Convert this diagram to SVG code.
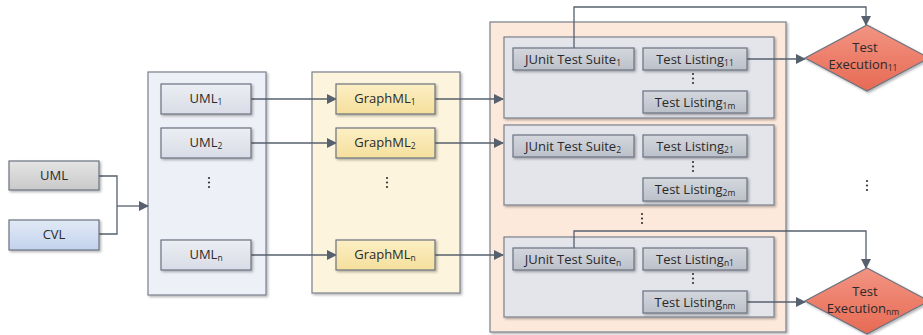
<svg xmlns="http://www.w3.org/2000/svg" width="923" height="335" viewBox="0 0 923 335">
<defs>
<linearGradient id="gGray" x1="0" y1="0" x2="0" y2="1"><stop offset="0" stop-color="#e4e4e4"/><stop offset="1" stop-color="#c9c9c9"/></linearGradient>
<linearGradient id="gBlue" x1="0" y1="0" x2="0" y2="1"><stop offset="0" stop-color="#e1e9f6"/><stop offset="1" stop-color="#c3d3ec"/></linearGradient>
<linearGradient id="gUml" x1="0" y1="0" x2="0" y2="1"><stop offset="0" stop-color="#eceef4"/><stop offset="1" stop-color="#d9dce6"/></linearGradient>
<linearGradient id="gYel" x1="0" y1="0" x2="0" y2="1"><stop offset="0" stop-color="#fcefc4"/><stop offset="1" stop-color="#f5df9c"/></linearGradient>
<linearGradient id="gJ" x1="0" y1="0" x2="0" y2="1"><stop offset="0" stop-color="#d4d7de"/><stop offset="1" stop-color="#bcc0c9"/></linearGradient>
<linearGradient id="gRed" x1="0" y1="0" x2="0" y2="1"><stop offset="0" stop-color="#f29482"/><stop offset="1" stop-color="#e76a54"/></linearGradient>
<filter id="sh" x="-10%" y="-10%" width="130%" height="140%"><feDropShadow dx="1.5" dy="1.5" stdDeviation="0.8" flood-color="#000" flood-opacity="0.3"/></filter>
<marker id="arr" markerWidth="10" markerHeight="10" refX="9" refY="5" orient="auto" markerUnits="userSpaceOnUse"><path d="M0,0 L10,5 L0,10 Z" fill="#56606e"/></marker>
</defs>
<style>
.box{stroke:#6b7280;stroke-width:1.2;filter:url(#sh)}
.cont{stroke:#7a808c;stroke-width:1.2;filter:url(#sh)}
.t{font-family:"Open Sans","Liberation Sans",Arial,sans-serif;font-size:13px;fill:#2a2a2a;text-anchor:middle}
.s{font-size:8.5px}
.ln{fill:none;stroke:#56606e;stroke-width:1.3}
.dot{fill:#333}
</style>

<g id="c1"><rect class="cont" x="148" y="72" width="118" height="223" fill="#eef0f7"/></g>
<g id="c2"><rect class="cont" x="312" y="72" width="148" height="221" fill="#fcf4dc"/></g>
<g id="c3"><rect class="cont" x="490" y="22" width="296" height="310" fill="#fde8dc"/></g>
<g id="sg1"><rect class="cont" x="504" y="37" width="270" height="81" fill="#e3e5eb"/></g>
<g id="sg2"><rect class="cont" x="504" y="125" width="270" height="80" fill="#e3e5eb"/></g>
<g id="sgn"><rect class="cont" x="504" y="237" width="270" height="80" fill="#e3e5eb"/></g>

<g id="connectors">
<polyline class="ln" points="99,176 117,176 117,234 99,234"/>
<line class="ln" x1="117" y1="206" x2="148" y2="206" marker-end="url(#arr)"/>
<line class="ln" x1="251" y1="99" x2="336" y2="99" marker-end="url(#arr)"/>
<line class="ln" x1="251" y1="143" x2="336" y2="143" marker-end="url(#arr)"/>
<line class="ln" x1="251" y1="255" x2="336" y2="255" marker-end="url(#arr)"/>
<line class="ln" x1="435" y1="99" x2="503" y2="99" marker-end="url(#arr)"/>
<line class="ln" x1="435" y1="143" x2="503" y2="143" marker-end="url(#arr)"/>
<line class="ln" x1="435" y1="255" x2="503" y2="255" marker-end="url(#arr)"/>
<polyline class="ln" points="574,48 574,7 866,7 866,25" marker-end="url(#arr)"/>
<polyline class="ln" points="574,248 574,231 866,231 866,268" marker-end="url(#arr)"/>
<line class="ln" x1="747" y1="59" x2="805" y2="59" marker-end="url(#arr)"/>
<line class="ln" x1="747" y1="302" x2="805" y2="302" marker-end="url(#arr)"/>
</g>

<g id="uml"><rect class="box" x="9" y="161" width="90" height="29" fill="url(#gGray)"/><text class="t" x="54" y="180">UML</text></g>
<g id="cvl"><rect class="box" x="9" y="220" width="90" height="30" fill="url(#gBlue)"/><text class="t" x="54" y="239">CVL</text></g>

<g id="uml1"><rect class="box" x="161" y="84" width="90" height="30" fill="url(#gUml)"/><text class="t" x="206" y="103">UML<tspan class="s" dy="2">1</tspan></text></g>
<g id="uml2"><rect class="box" x="161" y="128" width="90" height="30" fill="url(#gUml)"/><text class="t" x="206" y="147">UML<tspan class="s" dy="2">2</tspan></text></g>
<g id="umln"><rect class="box" x="161" y="240" width="90" height="30" fill="url(#gUml)"/><text class="t" x="206" y="259">UML<tspan class="s" dy="2">n</tspan></text></g>
<g id="dots1"><circle class="dot" cx="209" cy="178" r="1.1"/><circle class="dot" cx="209" cy="182.5" r="1.1"/><circle class="dot" cx="209" cy="187" r="1.1"/></g>

<g id="g1"><rect class="box" x="336" y="84" width="99" height="30" fill="url(#gYel)"/><text class="t" x="385" y="103">GraphML<tspan class="s" dy="2">1</tspan></text></g>
<g id="g2"><rect class="box" x="336" y="128" width="99" height="30" fill="url(#gYel)"/><text class="t" x="385" y="147">GraphML<tspan class="s" dy="2">2</tspan></text></g>
<g id="gn"><rect class="box" x="336" y="240" width="99" height="30" fill="url(#gYel)"/><text class="t" x="385" y="259">GraphML<tspan class="s" dy="2">n</tspan></text></g>
<g id="dots2"><circle class="dot" cx="387" cy="178" r="1.1"/><circle class="dot" cx="387" cy="182.5" r="1.1"/><circle class="dot" cx="387" cy="187" r="1.1"/></g>

<g id="js1"><rect class="box" x="513" y="48" width="121" height="22" fill="url(#gJ)"/><text class="t" x="573" y="63.5">JUnit Test Suite<tspan class="s" dy="2">1</tspan></text></g>
<g id="tl11"><rect class="box" x="643" y="48" width="104" height="22" fill="url(#gJ)"/><text class="t" x="695" y="63.5">Test Listing<tspan class="s" dy="2">11</tspan></text></g>
<g id="dots3"><circle class="dot" cx="693" cy="74" r="1.1"/><circle class="dot" cx="693" cy="78.5" r="1.1"/><circle class="dot" cx="693" cy="83" r="1.1"/></g>
<g id="tl1m"><rect class="box" x="643" y="91" width="104" height="22" fill="url(#gJ)"/><text class="t" x="695" y="106.5">Test Listing<tspan class="s" dy="2">1m</tspan></text></g>

<g id="js2"><rect class="box" x="513" y="135" width="121" height="22" fill="url(#gJ)"/><text class="t" x="573" y="150.5">JUnit Test Suite<tspan class="s" dy="2">2</tspan></text></g>
<g id="tl21"><rect class="box" x="643" y="135" width="104" height="22" fill="url(#gJ)"/><text class="t" x="695" y="150.5">Test Listing<tspan class="s" dy="2">21</tspan></text></g>
<g id="dots4"><circle class="dot" cx="693" cy="162" r="1.1"/><circle class="dot" cx="693" cy="166.5" r="1.1"/><circle class="dot" cx="693" cy="171" r="1.1"/></g>
<g id="tl2m"><rect class="box" x="643" y="178" width="104" height="23" fill="url(#gJ)"/><text class="t" x="695" y="194">Test Listing<tspan class="s" dy="2">2m</tspan></text></g>

<g id="dots5"><circle class="dot" cx="642" cy="214" r="1.1"/><circle class="dot" cx="642" cy="218.5" r="1.1"/><circle class="dot" cx="642" cy="223" r="1.1"/></g>

<g id="jsn"><rect class="box" x="513" y="248" width="121" height="22" fill="url(#gJ)"/><text class="t" x="573" y="263.5">JUnit Test Suite<tspan class="s" dy="2">n</tspan></text></g>
<g id="tln1"><rect class="box" x="643" y="248" width="104" height="22" fill="url(#gJ)"/><text class="t" x="695" y="263.5">Test Listing<tspan class="s" dy="2">n1</tspan></text></g>
<g id="dots6"><circle class="dot" cx="693" cy="274" r="1.1"/><circle class="dot" cx="693" cy="278.5" r="1.1"/><circle class="dot" cx="693" cy="283" r="1.1"/></g>
<g id="tlnm"><rect class="box" x="643" y="291" width="104" height="22" fill="url(#gJ)"/><text class="t" x="695" y="306.5">Test Listing<tspan class="s" dy="2">nm</tspan></text></g>

<g id="te11"><polygon class="box" points="867,25 929,58 867,91 805,58" fill="url(#gRed)"/><text class="t" x="865" y="52">Test</text><text class="t" x="863" y="69">Execution<tspan class="s" dy="2">11</tspan></text></g>
<g id="tenm"><polygon class="box" points="867,268 929,301 867,334 805,301" fill="url(#gRed)"/><text class="t" x="865" y="296">Test</text><text class="t" x="863" y="313">Execution<tspan class="s" dy="2">nm</tspan></text></g>
<g id="dots7"><circle class="dot" cx="867" cy="181" r="1.1"/><circle class="dot" cx="867" cy="185.5" r="1.1"/><circle class="dot" cx="867" cy="190" r="1.1"/></g>
</svg>
